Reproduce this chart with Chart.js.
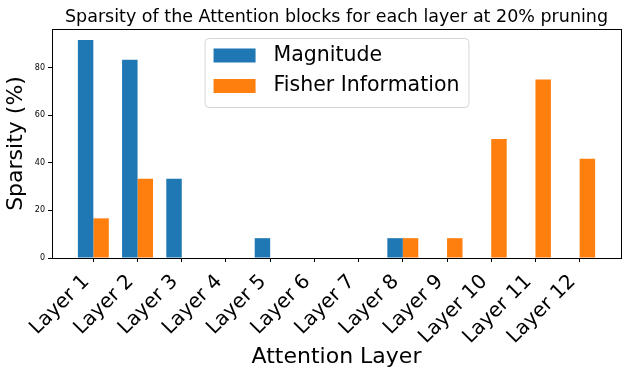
<!DOCTYPE html>
<html lang="en">
<head>
<meta charset="UTF-8">
<title>Sparsity</title>
<script src="https://cdn.jsdelivr.net/npm/chart.js@4.4.0/dist/chart.umd.min.js"></script>
<style>
  body { margin: 0; background: #fff; }
</style>
</head>
<body>
<canvas id="chart" width="631" height="378"></canvas>
<script>
const layers = ['Layer 1', 'Layer 2', 'Layer 3', 'Layer 4', 'Layer 5', 'Layer 6',
                'Layer 7', 'Layer 8', 'Layer 9', 'Layer 10', 'Layer 11', 'Layer 12'];
const magnitude = [91.67, 83.33, 33.33, 0, 8.33, 0, 0, 8.33, 0, 0, 0, 0];
const fisher = [16.67, 33.33, 0, 0, 0, 0, 0, 8.33, 8.33, 50, 75, 41.67];
const yTicks = [0, 20, 40, 60, 80];

Chart.defaults.font.family = 'DejaVu Sans';
Chart.defaults.color = '#000';

// matplotlib style box around the plot
const frame = {
  id: 'frame',
  afterDatasetsDraw(chart) {
    const a = chart.chartArea, ctx = chart.ctx;
    ctx.save();
    ctx.strokeStyle = '#000';
    ctx.lineWidth = 1;
    ctx.strokeRect(Math.round(a.left) + 0.5, Math.round(a.top) + 0.5,
                   Math.round(a.right - a.left), Math.round(a.bottom - a.top));
    ctx.restore();
  }
};

// legend inside the axes, upper center, with a rounded frame
const boxLegend = {
  id: 'boxLegend',
  afterDraw(chart) {
    const ctx = chart.ctx, a = chart.chartArea;
    const sets = chart.data.datasets;
    ctx.save();
    ctx.font = '20.5px "DejaVu Sans"';
    let tw = 0;
    sets.forEach(d => { tw = Math.max(tw, ctx.measureText(d.label).width); });
    const w = 9 + 42 + 18 + tw + 9;
    const h = 69;
    const x = (a.left + a.right) / 2 - w / 2;
    const y = a.top + 9;
    ctx.beginPath();
    ctx.roundRect(x + 0.5, y + 0.5, w, h, 4);
    ctx.fillStyle = 'rgba(255,255,255,0.8)';
    ctx.fill();
    ctx.strokeStyle = '#d6d6d6';
    ctx.lineWidth = 1;
    ctx.stroke();
    sets.forEach((d, i) => {
      const cy = y + 17.5 + i * 30.5;
      ctx.fillStyle = d.backgroundColor;
      ctx.fillRect(x + 9, cy - 7, 42, 14);
      ctx.fillStyle = '#000';
      ctx.textBaseline = 'middle';
      ctx.textAlign = 'left';
      ctx.fillText(d.label, x + 9 + 42 + 18, cy);
    });
    ctx.restore();
  }
};

new Chart(document.getElementById('chart'), {
  type: 'bar',
  data: {
    datasets: [
      { label: 'Magnitude', data: magnitude.map((v, i) => ({ x: i, y: v })),
        backgroundColor: '#1f77b4', borderWidth: 0 },
      { label: 'Fisher Information', data: fisher.map((v, i) => ({ x: i, y: v })),
        backgroundColor: '#ff7f0e', borderWidth: 0 }
    ]
  },
  options: {
    responsive: false,
    animation: false,
    categoryPercentage: 0.7,
    barPercentage: 1.0,
    layout: { padding: { left: 0, right: 10, top: 0, bottom: 0 } },
    plugins: {
      legend: { display: false },
      tooltip: { enabled: false },
      title: {
        display: true,
        fullSize: false,
        text: 'Sparsity of the Attention blocks for each layer at 20% pruning',
        font: { size: 17.5, weight: 'normal' },
        color: '#000',
        padding: { top: 7, bottom: 1 }
      }
    },
    scales: {
      x: {
        type: 'linear',
        offset: false,
        min: -0.935,
        max: 11.935,
        afterBuildTicks: s => { s.ticks = layers.map((l, i) => ({ value: i })); },
        afterFit: s => { s.height = 120; },
        grid: { offset: false, drawOnChartArea: false, drawTicks: true, tickLength: 4, tickColor: '#000' },
        border: { display: true, color: '#000' },
        ticks: {
          autoSkip: false,
          minRotation: 45,
          maxRotation: 45,
          labelOffset: -7,
          padding: 8,
          font: { size: 20 },
          color: '#000',
          callback: v => layers[v] ?? ''
        },
        title: {
          display: true,
          text: 'Attention Layer',
          font: { size: 22 },
          color: '#000',
          padding: { top: 0, bottom: 8 }
        }
      },
      y: {
        min: 0,
        max: 96.25,
        afterBuildTicks: s => { s.ticks = yTicks.map(v => ({ value: v })); },
        afterFit: s => { s.width = 52; },
        grid: { drawOnChartArea: false, drawTicks: true, tickLength: 4, tickColor: '#000' },
        border: { display: true, color: '#000' },
        ticks: { font: { size: 8 }, color: '#000', padding: 3 },
        title: {
          display: true,
          text: 'Sparsity (%)',
          font: { size: 22 },
          color: '#000',
          padding: { top: 3, bottom: 0 }
        }
      }
    }
  },
  plugins: [frame, boxLegend]
});
</script>
</body>
</html>
